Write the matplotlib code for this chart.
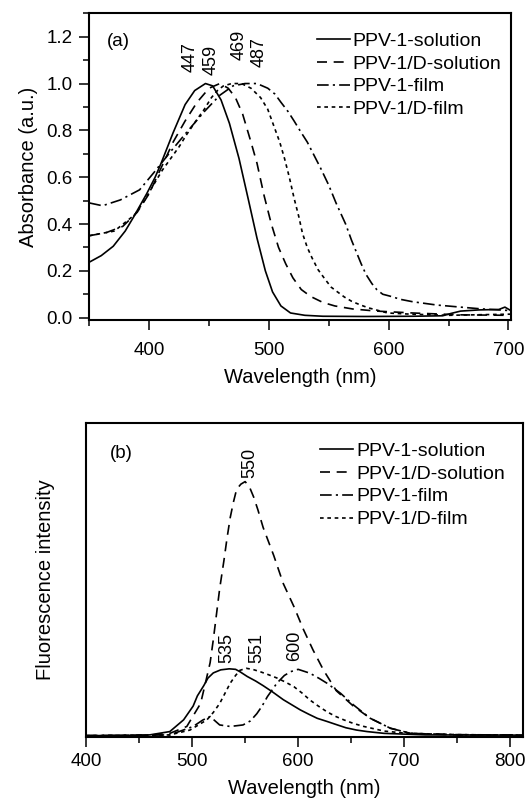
import matplotlib
matplotlib.use("Agg")
import matplotlib.pyplot as plt
from matplotlib.ticker import MultipleLocator

plt.rcParams["font.family"] = ["Liberation Sans", "DejaVu Sans"]

labels = ["PPV-1-solution", "PPV-1/D-solution", "PPV-1-film", "PPV-1/D-film"]

# (a) absorption spectra
abs_sol_x = [350, 360, 370, 380, 387, 398, 405, 410, 420, 430, 438, 447, 453, 460, 467,
             475, 483, 490, 497, 503, 510, 518, 530, 545, 580, 620, 645, 652, 660, 675,
             692, 697, 702]
abs_sol_y = [0.237, 0.265, 0.305, 0.37, 0.43, 0.53, 0.60, 0.66, 0.79, 0.91, 0.97, 1.0,
             0.99, 0.93, 0.83, 0.68, 0.50, 0.34, 0.20, 0.11, 0.05, 0.02, 0.01, 0.006,
             0.005, 0.006, 0.008, 0.018, 0.028, 0.033, 0.035, 0.045, 0.03]
abs_dsol_x = [350, 364, 378, 390, 400, 410, 420, 430, 440, 450, 459, 466, 472, 478, 485,
              490, 496, 502, 508, 514, 520, 527, 535, 545, 555, 570, 590, 620, 660, 702]
abs_dsol_y = [0.35, 0.363, 0.39, 0.45, 0.53, 0.64, 0.75, 0.84, 0.92, 0.98, 1.0, 0.98,
              0.94, 0.87, 0.75, 0.66, 0.52, 0.40, 0.30, 0.23, 0.17, 0.12, 0.09, 0.065,
              0.05, 0.037, 0.028, 0.02, 0.012, 0.01]
abs_film_x = [350, 361, 376, 392, 404, 418, 431, 446, 459, 470, 480, 490, 499, 505, 510,
              516, 521, 527, 532, 538, 543, 550, 556, 564, 569, 573, 577, 581, 586, 590,
              595, 601, 610, 620, 640, 660, 676, 702]
abs_film_y = [0.49, 0.478, 0.503, 0.546, 0.62, 0.71, 0.79, 0.88, 0.95, 0.99, 1.0, 1.0,
              0.98, 0.955, 0.92, 0.88, 0.84, 0.79, 0.75, 0.69, 0.64, 0.565, 0.49, 0.40,
              0.33, 0.28, 0.23, 0.185, 0.145, 0.12, 0.10, 0.092, 0.078, 0.068, 0.054,
              0.045, 0.038, 0.03]
abs_dfilm_x = [350, 371, 388, 396, 404, 411, 418, 425, 431, 439, 446, 452, 457, 462, 469,
               477, 485, 493, 499, 504, 509, 513, 517, 521, 525, 528, 532, 536, 541, 547,
               552, 558, 563, 569, 576, 583, 599, 618, 650, 702]
abs_dfilm_y = [0.35, 0.37, 0.44, 0.50, 0.57, 0.63, 0.68, 0.73, 0.78, 0.84, 0.89, 0.94,
               0.97, 0.99, 1.0, 1.0, 0.98, 0.94, 0.89, 0.82, 0.75, 0.68, 0.60, 0.51, 0.43,
               0.36, 0.30, 0.255, 0.205, 0.163, 0.13, 0.107, 0.088, 0.07, 0.055, 0.042,
               0.02, 0.015, 0.01, 0.015]
abs_peaks = ["447", "459", "469", "487"]
abs_peak_x = [434, 452, 475, 492]
abs_peak_y = [1.048, 1.035, 1.10, 1.07]

# (b) fluorescence spectra (relative units)
fl_sol_x = [400, 440, 460, 479, 492, 501, 505, 511, 515, 520, 527, 535, 541, 545, 552,
            560, 567, 576, 586, 594, 602, 610, 618, 627, 637, 645, 655, 665, 681, 720, 812]
fl_sol_y = [0.004, 0.005, 0.007, 0.02, 0.066, 0.12, 0.16, 0.20, 0.23, 0.25, 0.262, 0.266,
            0.264, 0.255, 0.236, 0.218, 0.20, 0.175, 0.145, 0.125, 0.105, 0.088, 0.072,
            0.06, 0.046, 0.035, 0.026, 0.02, 0.013, 0.007, 0.006]
fl_dsol_x = [400, 460, 479, 495, 508, 512, 517, 520, 523, 526, 530, 533, 536, 539, 542,
             546, 550, 554, 558, 562, 567, 577, 586, 596, 605, 614, 624, 636, 652, 668,
             687, 706, 750, 812]
fl_dsol_y = [0.004, 0.006, 0.013, 0.04, 0.13, 0.20, 0.29, 0.38, 0.48, 0.58, 0.69, 0.78,
             0.86, 0.92, 0.97, 0.99, 1.0, 0.98, 0.94, 0.89, 0.82, 0.71, 0.60, 0.51, 0.42,
             0.34, 0.26, 0.18, 0.12, 0.072, 0.033, 0.013, 0.007, 0.006]
fl_film_x = [400, 460, 479, 501, 510, 517, 526, 536, 548, 555, 561, 566, 571, 580, 587,
             593, 600, 611, 620, 627, 640, 652, 668, 687, 706, 750, 812]
fl_film_y = [0.004, 0.006, 0.007, 0.04, 0.065, 0.079, 0.046, 0.04, 0.046, 0.062, 0.09,
             0.12, 0.157, 0.21, 0.24, 0.255, 0.264, 0.249, 0.228, 0.21, 0.17, 0.125,
             0.072, 0.033, 0.013, 0.008, 0.006]
fl_dfilm_x = [400, 460, 479, 498, 514, 520, 526, 531, 536, 541, 545, 551, 557, 564, 572,
              580, 588, 596, 604, 611, 619, 627, 635, 643, 652, 662, 681, 703, 750, 812]
fl_dfilm_y = [0.004, 0.005, 0.007, 0.026, 0.066, 0.095, 0.13, 0.17, 0.21, 0.24, 0.26,
              0.268, 0.264, 0.255, 0.243, 0.23, 0.214, 0.196, 0.17, 0.144, 0.12, 0.098,
              0.08, 0.066, 0.052, 0.04, 0.022, 0.013, 0.008, 0.006]
fl_peaks = ["535", "551", "600", "550"]
fl_peak_x = [532.7, 561, 597, 554.7]
fl_peak_y = [0.29, 0.29, 0.296, 1.015]

styles = [
    dict(linestyle="-"),
    dict(linestyle=(0, (6, 4))),
    dict(linestyle=(0, (7, 2.5, 1.3, 2.5))),
    dict(linestyle=(0, (2.2, 2.2))),
]


def style_axis(ax):
    for spine in ax.spines.values():
        spine.set_linewidth(1.5)
    ax.tick_params(which="major", direction="out", length=7, width=1.1,
                   labelsize=13.5, pad=5, top=False, right=False)
    ax.tick_params(which="minor", direction="out", length=4.5, width=1.1,
                   top=False, right=False)


def add_legend(fig, ax, x, y):
    ax.legend(loc="upper left", bbox_to_anchor=(x, y), bbox_transform=fig.transFigure,
              frameon=False, fontsize=14, borderpad=0, borderaxespad=0,
              handlelength=1.7, handletextpad=0.15, labelspacing=0.27)


def plot_absorbance(fig):
    ax = fig.add_axes([0.1691, 0.6005, 0.7985, 0.3829])
    series = [(abs_sol_x, abs_sol_y), (abs_dsol_x, abs_dsol_y),
              (abs_film_x, abs_film_y), (abs_dfilm_x, abs_dfilm_y)]
    for (x, y), st, lab in zip(series, styles, labels):
        ax.plot(x, y, color="black", linewidth=1.2, label=lab, **st)
    for txt, px, py in zip(abs_peaks, abs_peak_x, abs_peak_y):
        ax.text(px, py, txt, rotation=90, ha="center", va="bottom", fontsize=13)
    ax.text(364.5, 1.18, "(a)", ha="left", va="center", fontsize=13.5)
    ax.set_xlim(350, 702)
    ax.set_ylim(-0.01, 1.3)
    ax.xaxis.set_major_locator(MultipleLocator(100))
    ax.xaxis.set_minor_locator(MultipleLocator(50))
    ax.yaxis.set_minor_locator(MultipleLocator(0.1))
    ax.set_yticks([0.0, 0.2, 0.4, 0.6, 0.8, 1.0, 1.2])
    ax.set_yticklabels(["0.0", "0.2", "0.4", "0.6", "0.8", "1.0", "1.2"])
    ax.set_xlabel("Wavelength (nm)", fontsize=14.5, labelpad=7)
    ax.set_ylabel("Absorbance (a.u.)", fontsize=14.5, labelpad=6)
    style_axis(ax)
    ax.tick_params(axis="x", which="major", pad=8.5)
    add_legend(fig, ax, 0.600, 0.960)


def plot_fluorescence(fig):
    ax = fig.add_axes([0.1629, 0.0803, 0.8277, 0.392])
    series = [(fl_sol_x, fl_sol_y), (fl_dsol_x, fl_dsol_y),
              (fl_film_x, fl_film_y), (fl_dfilm_x, fl_dfilm_y)]
    for (x, y), st, lab in zip(series, styles, labels):
        ax.plot(x, y, color="black", linewidth=1.2, label=lab, **st)
    for txt, px, py in zip(fl_peaks, fl_peak_x, fl_peak_y):
        ax.text(px, py, txt, rotation=90, ha="center", va="bottom", fontsize=13)
    ax.text(422.5, 1.112, "(b)", ha="left", va="center", fontsize=13.5)
    ax.set_xlim(400, 812)
    ax.set_ylim(0, 1.231)
    ax.set_xticks([400, 500, 600, 700, 800])
    ax.xaxis.set_minor_locator(MultipleLocator(50))
    ax.set_yticks([])
    ax.set_xlabel("Wavelength (nm)", fontsize=14.5, labelpad=6)
    ax.set_ylabel("Fluorescence intensity", fontsize=14.5, labelpad=22)
    style_axis(ax)
    add_legend(fig, ax, 0.606, 0.448)


def main():
    fig = plt.figure(figsize=(5.28, 8.01), dpi=100)
    plot_absorbance(fig)
    plot_fluorescence(fig)
    fig.savefig("out.png", dpi=100, facecolor="white")
    plt.close(fig)


if __name__ == "__main__":
    main()
